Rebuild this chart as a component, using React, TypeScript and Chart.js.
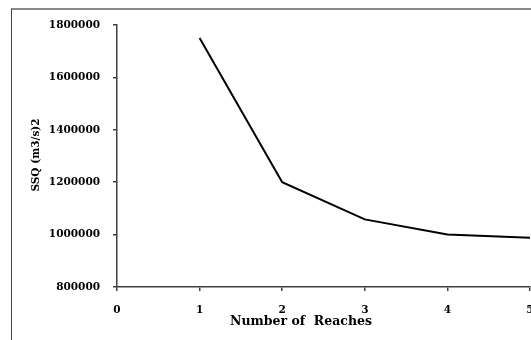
import React, { useEffect, useRef } from "react";
import { Chart, registerables } from "chart.js";

Chart.register(...registerables);

const reaches = [1, 2, 3, 4, 5];
const ssq = [1750000, 1200000, 1058000, 1000000, 988000];
const xTicks = [0, 1, 2, 3, 4, 5];
const yTicks = [800000, 1000000, 1200000, 1400000, 1600000, 1800000];
const xTitle = "Number of  Reaches";
const yTitle = "SSQ (m3/s)2";

const FONT = "'DejaVu Serif', serif";

const framePlugin = {
  id: "frame",
  afterDraw(chart: any) {
    const ctx = chart.ctx;
    ctx.save();
    ctx.strokeStyle = "#8a8a8a";
    ctx.lineWidth = 2;
    ctx.beginPath();
    ctx.moveTo(11, 9);
    ctx.lineTo(chart.width, 9);
    ctx.stroke();
    ctx.strokeStyle = "#444";
    ctx.lineWidth = 1;
    ctx.beginPath();
    ctx.moveTo(11.5, 9);
    ctx.lineTo(11.5, chart.height);
    ctx.stroke();
    // axis titles
    ctx.fillStyle = "#000";
    ctx.textAlign = "center";
    ctx.textBaseline = "middle";
    ctx.font = `bold 12.5px ${FONT}`;
    ctx.fillText(xTitle, 301, 322);
    ctx.font = `bold 10.5px ${FONT}`;
    ctx.translate(36, 155);
    ctx.rotate(-Math.PI / 2);
    ctx.fillText(yTitle, 0, 0);
    ctx.restore();
  },
};

export default function App() {
  const ref = useRef<HTMLCanvasElement>(null);
  useEffect(() => {
    if (!ref.current) return;
    const chart = new Chart(ref.current, {
      type: "line",
      data: {
        datasets: [
          {
            data: reaches.map((r, i) => ({ x: r, y: ssq[i] })),
            borderColor: "#000",
            borderWidth: 2,
            pointRadius: 0,
            tension: 0,
            fill: false,
          },
        ],
      },
      options: {
        animation: false,
        responsive: false,
        maintainAspectRatio: false,
        layout: { padding: { top: 25, left: 0, right: 30, bottom: 0 } },
        plugins: { legend: { display: false }, tooltip: { enabled: false } },
        scales: {
          x: {
            type: "linear",
            min: xTicks[0],
            max: xTicks[xTicks.length - 1],
            afterBuildTicks: (s: any) => {
              s.ticks = xTicks.map((v) => ({ value: v }));
            },
            afterFit: (s: any) => {
              s.height = 53;
            },
            grid: { drawOnChartArea: false, tickLength: 4, color: "#404040", lineWidth: 1.5 },
            border: { color: "#404040", width: 1.5 },
            ticks: {
              color: "#000",
              padding: 13,
              maxRotation: 0,
              font: { family: FONT, weight: "bold", size: 10.5 },
            },
          },
          y: {
            type: "linear",
            min: yTicks[0],
            max: yTicks[yTicks.length - 1],
            afterBuildTicks: (s: any) => {
              s.ticks = yTicks.map((v) => ({ value: v }));
            },
            afterFit: (s: any) => {
              s.width = 117;
            },
            grid: { drawOnChartArea: false, tickLength: 4, color: "#404040", lineWidth: 1.5 },
            border: { color: "#404040", width: 1.5 },
            ticks: {
              color: "#000",
              padding: 13,
              callback: (v: any) => String(v),
              font: { family: FONT, weight: "bold", size: 10.5 },
            },
          },
        },
      },
      plugins: [framePlugin],
    });
    return () => chart.destroy();
  }, []);
  return (
    <div style={{ position: "fixed", left: 0, top: 0, width: 531, height: 340, overflow: "hidden", background: "#fff" }}>
      <canvas ref={ref} width={560} height={340} style={{ width: 560, height: 340, display: "block" }} />
    </div>
  );
}
